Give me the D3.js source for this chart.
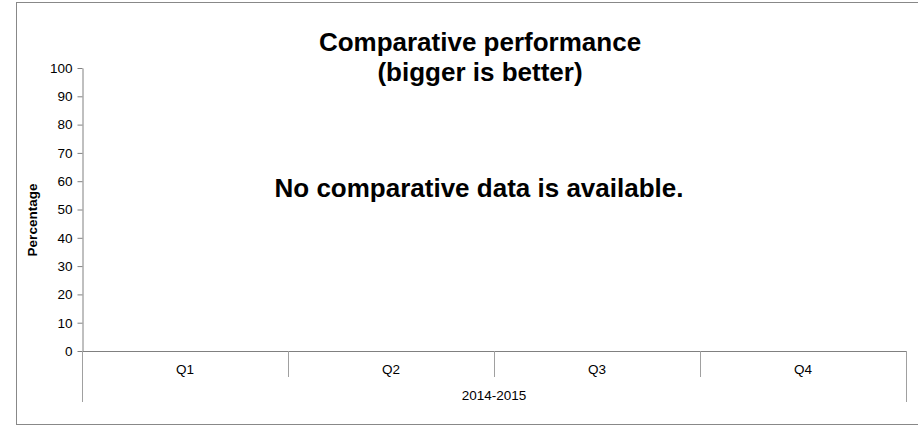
<!DOCTYPE html>
<html>
<head>
<meta charset="utf-8">
<script src="https://cdn.jsdelivr.net/npm/d3@7"></script>
<style>
  html, body { margin: 0; padding: 0; background: #fff; }
  text { font-family: "Liberation Sans", Arial, sans-serif; }
</style>
</head>
<body>
<svg id="chart" width="918" height="426"></svg>
<script>
const categories = ["Q1", "Q2", "Q3", "Q4"];
const groupLabel = "2014-2015";
const yTicks = [0, 10, 20, 30, 40, 50, 60, 70, 80, 90, 100];
const seriesValues = []; // no comparative data available
const titleLines = ["Comparative performance", "(bigger is better)"];
const noDataMessage = "No comparative data is available.";
const yAxisTitle = "Percentage";

const svg = d3.select("#chart");
const x0 = 82, x1 = 906, yTop = 68, yBottom = 351;

// outer border
svg.append("rect")
  .attr("x", 16.5).attr("y", 2.5)
  .attr("width", 902).attr("height", 422)
  .attr("fill", "none").attr("stroke", "#888").attr("stroke-width", 1);

const x = d3.scaleBand().domain(categories).range([x0, x1]).padding(0);
const y = d3.scaleLinear().domain([0, 100]).range([yBottom, yTop]);

// y axis
const yAxis = d3.axisLeft(y).tickValues(yTicks).tickSize(5).tickPadding(5).tickSizeOuter(0);
const gy = svg.append("g").attr("transform", `translate(${x0 + 0.5},0)`).call(yAxis);
gy.select(".domain").attr("stroke", "#808080");
gy.selectAll(".tick line").attr("stroke", "#808080");
gy.selectAll(".tick text").attr("fill", "#000").style("font-size", "13.5px")
  .style("font-family", '"Liberation Sans", Arial, sans-serif');

// x axis baseline
svg.append("line")
  .attr("x1", x0).attr("x2", x1)
  .attr("y1", y(0) + 0.5).attr("y2", y(0) + 0.5)
  .attr("stroke", "#808080");

// category boundaries
const bounds = categories.map(c => x(c)).concat([x.range()[1]]);
svg.selectAll("line.bound").data(bounds).enter().append("line")
  .attr("class", "bound")
  .attr("x1", d => Math.round(d) + 0.5).attr("x2", d => Math.round(d) + 0.5)
  .attr("y1", y(0)).attr("y2", (d, i) => (i === 0 || i === bounds.length - 1) ? 402 : 377)
  .attr("stroke", "#a0a0a0");

// category labels
svg.selectAll("text.cat").data(categories).enter().append("text")
  .attr("class", "cat")
  .attr("x", d => x(d) + x.bandwidth() / 2)
  .attr("y", 374)
  .attr("text-anchor", "middle")
  .style("font-size", "13.5px")
  .text(d => d);

// group label
svg.append("text")
  .attr("x", (x0 + x1) / 2).attr("y", 400)
  .attr("text-anchor", "middle")
  .style("font-size", "13.5px")
  .text(groupLabel);

// y axis title
svg.append("text")
  .attr("transform", `translate(37,220) rotate(-90)`)
  .attr("text-anchor", "middle")
  .style("font-size", "13.5px").style("font-weight", "bold")
  .text(yAxisTitle);

// title
svg.selectAll("text.title").data(titleLines).enter().append("text")
  .attr("class", "title")
  .attr("x", 480).attr("y", (d, i) => 51 + i * 30)
  .attr("text-anchor", "middle")
  .style("font-size", "26px").style("font-weight", "bold")
  .text(d => d);

// no-data message
if (seriesValues.length === 0) {
  svg.append("text")
    .attr("x", 479).attr("y", 197)
    .attr("text-anchor", "middle")
    .style("font-size", "26px").style("font-weight", "bold")
    .text(noDataMessage);
}
</script>
</body>
</html>
